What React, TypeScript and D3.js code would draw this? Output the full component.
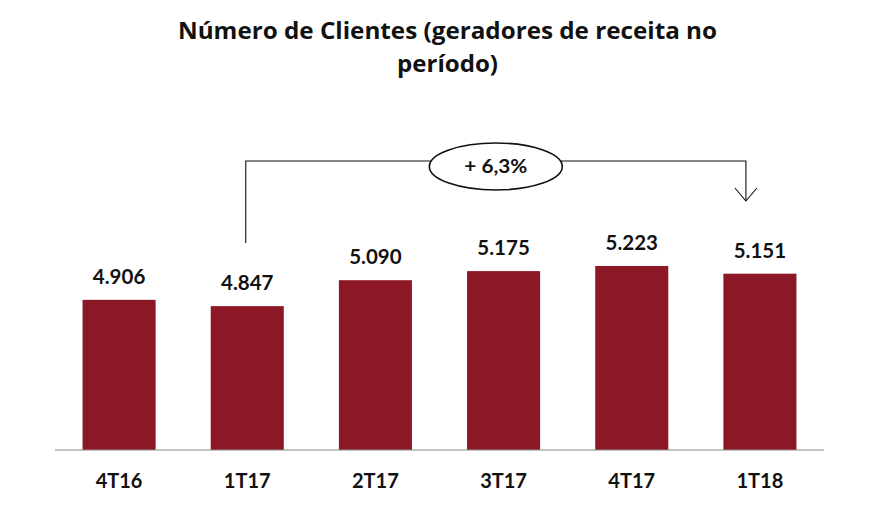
import React from "react";
import * as d3 from "d3";

const categories = ["4T16", "1T17", "2T17", "3T17", "4T17", "1T18"];
const values = [4906, 4847, 5090, 5175, 5223, 5151];
const valueLabels = ["4.906", "4.847", "5.090", "5.175", "5.223", "5.151"];
const titleLines = ["Número de Clientes (geradores de receita no", "período)"];
const growthLabel = "+ 6,3%";
const growthFrom = "1T17";
const growthTo = "1T18";

const W = 889;
const H = 516;
const FONT = "Lato, 'Open Sans', sans-serif";
const TFONT = "'Open Sans', Lato, sans-serif";
const titleLens = [539, 101];

export default function App() {
  const x = d3.scaleBand<string>().domain(categories).range([55, 824]).paddingInner(0.43).paddingOuter(0.215);
  const y = d3.scaleLinear().domain([3500, 6000]).range([450, 183]);
  const baseY = y(3500);

  const xFrom = (x(growthFrom) ?? 0) + x.bandwidth() / 2 - 1.5;
  const xTo = (x(growthTo) ?? 0) + x.bandwidth() / 2 - 14;
  const lineY = 161;
  const ex = xFrom + 0.5 * (xTo - xFrom);

  return (
    <svg width={W} height={H} style={{ position: "absolute", left: 0, top: 0 }} fontFamily={FONT}>
      <rect width={W} height={H} fill="#fff" />
      {titleLines.map((t, i) => (
        <text
          key={i}
          x={447.5}
          y={38.5 + i * 33}
          textAnchor="middle"
          fontSize={22.4}
          fontWeight={700}
          fill="#111"
          fontFamily={TFONT}
          textLength={titleLens[i]}
          lengthAdjust="spacingAndGlyphs"
        >
          {t}
        </text>
      ))}
      {categories.map((c, i) => (
        <g key={c}>
          <rect x={x(c)} y={y(values[i])} width={x.bandwidth()} height={baseY - y(values[i])} fill="#8C1826" />
          <text x={(x(c) ?? 0) + x.bandwidth() / 2} y={y(values[i]) - 16} textAnchor="middle" fontSize={20.5} fontWeight={700} fill="#111">
            {valueLabels[i]}
          </text>
          <text x={(x(c) ?? 0) + x.bandwidth() / 2} y={488} textAnchor="middle" fontSize={20} fontWeight={700} fill="#111">
            {c}
          </text>
        </g>
      ))}
      <line x1={55} x2={824} y1={baseY} y2={baseY} stroke="#8a8a8a" strokeWidth={1.2} />
      <path d={`M${xFrom},243V${lineY}H${xTo}V201`} fill="none" stroke="#111" strokeWidth={1.1} />
      <path d={`M${xTo - 11},188L${xTo},201L${xTo + 11},188`} fill="none" stroke="#111" strokeWidth={1.1} />
      <ellipse cx={ex} cy={166.5} rx={66.5} ry={23.5} fill="#fff" stroke="#111" strokeWidth={1.6} />
      <text x={ex} y={172.5} textAnchor="middle" fontSize={18} fontWeight={700} fill="#111" textLength={63} lengthAdjust="spacingAndGlyphs">
        {growthLabel}
      </text>
    </svg>
  );
}
